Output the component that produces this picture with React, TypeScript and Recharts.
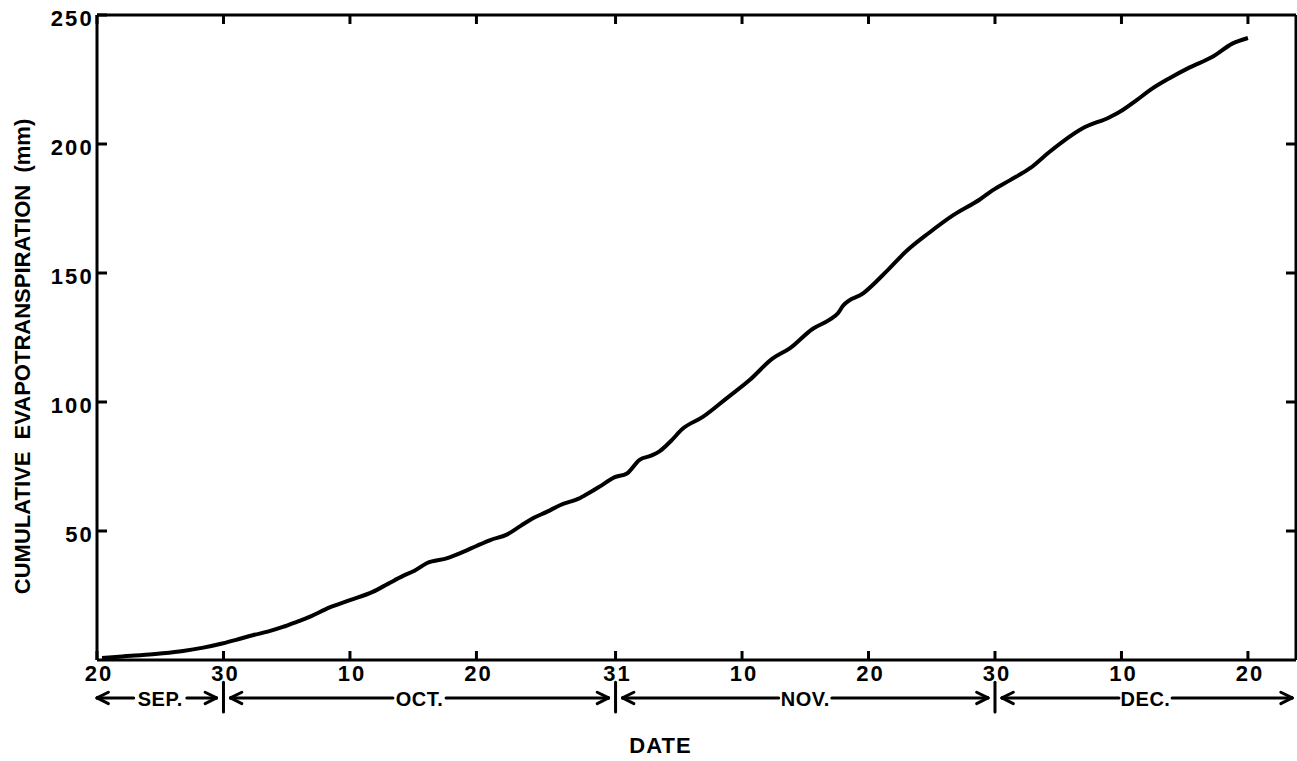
import { LineChart, Line, XAxis, YAxis, ReferenceLine, Label } from 'recharts';

// Days counted from 20 September, and the cumulative ET read at each day (mm)
const days = [
  0.4, 2, 3.6, 5.2, 6.8, 8.4, 9.9, 11, 12.3, 13.5, 14.7, 15.8, 16.8, 18.4, 20, 21.8,
  23, 24.2, 25.1, 26.1, 27.7, 29, 30, 31.1, 32.4, 33.5, 34.5, 35.6, 36.6, 38.2, 39,
  39.8, 40.9, 41.9, 42.9, 43.8, 44.5, 45.4, 46.3, 47.9, 49.8, 51.6, 53.4, 54.8, 56.6,
  57.9, 58.6, 59, 60.6, 62.5, 64, 65.8, 67.7, 69.8, 70.8, 72.2, 73.8, 75.3, 77.9, 80.1,
  81.1, 82.2, 83.2, 84.8, 86.4, 88.2, 89.8, 91,
];
const cumulativeEt = [
  0.8, 1.4, 1.9, 2.6, 3.5, 4.8, 6.4, 7.8, 9.6, 11, 12.8, 14.8, 16.7, 20.4, 23.2, 26.4,
  29.5, 32.6, 34.6, 37.6, 39.5, 42, 44.2, 46.5, 48.6, 52, 55, 57.5, 60, 62.8, 65,
  67.4, 70.8, 72.3, 77.6, 79.2, 81, 85, 89.6, 94.2, 101.5, 108.5, 116.8, 120.9, 128.4,
  131.8, 134.5, 137.4, 142.2, 151, 158.5, 165.6, 172.4, 178.5, 182, 186, 190.7, 196.9, 206, 210.5,
  213.2, 217, 220.7, 225.5, 229.7, 233.8, 239, 241.1,
];

const dayTicks = [0, 10, 20, 30, 41, 51, 61, 71, 81, 91];
const dayTickLabels = ['20', '30', '10', '20', '31', '10', '20', '30', '10', '20'];
const etTicks = [50, 100, 150, 200, 250];

const monthNames = ['SEP.', 'OCT.', 'NOV.', 'DEC.'];
const monthStart = [0, 10, 41, 71];
const monthEnd = [10, 41, 71, 94.8];

const X_MAX = 94.8;
const ROW_Y = -14.7; // arrow row under the axis, in mm units
const BAR_TOP = -8.6;
const BAR_BOTTOM = -20.2;
const LABEL_HALF = 2.1; // half the gap left for a month name, in days
const TIP_GAP = 0.55;
const HEAD_LEN = 0.9;
const HEAD_HALF = 2.2;

const FONT = "'Liberation Sans', Arial, sans-serif";

const data = days.map((d, i) => ({ day: d, et: cumulativeEt[i] }));
const monthMid = monthStart.map((s, i) => (s + monthEnd[i]) / 2);

type Seg = [number, number, number, number];

function monthSegments(): Seg[] {
  const segs: Seg[] = [];
  monthStart.forEach((s, i) => {
    const e = monthEnd[i];
    const mid = monthMid[i];
    const left = i === 0 ? s : s + TIP_GAP;
    const right = i === monthStart.length - 1 ? e - 0.3 : e - TIP_GAP;
    // left arrow
    segs.push([left, ROW_Y, mid - LABEL_HALF, ROW_Y]);
    segs.push([left, ROW_Y, left + HEAD_LEN, ROW_Y + HEAD_HALF]);
    segs.push([left, ROW_Y, left + HEAD_LEN, ROW_Y - HEAD_HALF]);
    // right arrow
    segs.push([mid + LABEL_HALF, ROW_Y, right, ROW_Y]);
    segs.push([right, ROW_Y, right - HEAD_LEN, ROW_Y + HEAD_HALF]);
    segs.push([right, ROW_Y, right - HEAD_LEN, ROW_Y - HEAD_HALF]);
    // divider at the month end
    if (i < monthStart.length - 1) segs.push([e, BAR_TOP, e, BAR_BOTTOM]);
  });
  return segs;
}

const lettering = (size: number, spacing = 0) => ({
  fontFamily: FONT,
  fontWeight: 700,
  fontSize: size,
  letterSpacing: spacing,
  fill: '#000',
});

function DayTick(props: any) {
  const { x, y, index } = props;
  return (
    <g>
      <line x1={x} x2={x} y1={y} y2={y - 9} stroke="#000" strokeWidth={3} />
      <text x={x + 2} y={y + 13} textAnchor="middle" dominantBaseline="central" style={lettering(22, 2)}>
        {dayTickLabels[index]}
      </text>
    </g>
  );
}

function TopTick(props: any) {
  const { x, y } = props;
  return <line x1={x} x2={x} y1={y} y2={y + 9} stroke="#000" strokeWidth={3} />;
}

function MonthTick(props: any) {
  const { x, y, index } = props;
  return (
    <text x={x} y={y + 14} textAnchor="middle" dominantBaseline="central" style={lettering(20, 0.5)}>
      {monthNames[index]}
    </text>
  );
}

function EtTick(props: any) {
  const { x, y, payload } = props;
  return (
    <g>
      <line x1={x} x2={x + 10} y1={y} y2={y} stroke="#000" strokeWidth={3} />
      <text x={x - 3} y={y + 3} textAnchor="end" dominantBaseline="central" style={lettering(22, 2.2)}>
        {payload.value}
      </text>
    </g>
  );
}

function RightTick(props: any) {
  const { x, y, payload } = props;
  if (payload.value === 250) return <g />;
  return <line x1={x} x2={x - 10} y1={y} y2={y} stroke="#000" strokeWidth={3} />;
}

export default function App() {
  return (
    <div style={{ position: 'absolute', left: 0, top: 0, width: 1297, height: 761, background: '#fff' }}>
      <LineChart width={1297} height={761} data={data} margin={{ top: 0, right: 0, bottom: 0, left: 0 }}>
        <XAxis
          xAxisId="day"
          dataKey="day"
          type="number"
          domain={[0, X_MAX]}
          allowDataOverflow
          ticks={dayTicks}
          interval={0}
          height={25}
          tickSize={0}
          tickMargin={0}
          tickLine={false}
          axisLine={{ stroke: '#000', strokeWidth: 3 }}
          tick={<DayTick />}
        />
        <XAxis
          xAxisId="month"
          dataKey="day"
          type="number"
          domain={[0, X_MAX]}
          allowDataOverflow
          ticks={monthMid}
          interval={0}
          height={76}
          tickSize={0}
          tickMargin={0}
          tickLine={false}
          axisLine={false}
          tick={<MonthTick />}
        >
          <Label
            content={({ viewBox }: any) => (
              <text
                x={viewBox.x + viewBox.width / 2 - 36}
                y={viewBox.y + 60}
                textAnchor="middle"
                dominantBaseline="central"
                style={lettering(22, 1)}
              >
                DATE
              </text>
            )}
          />
        </XAxis>
        <XAxis
          xAxisId="top"
          orientation="top"
          dataKey="day"
          type="number"
          domain={[0, X_MAX]}
          allowDataOverflow
          ticks={dayTicks}
          interval={0}
          height={15}
          tickSize={0}
          tickMargin={0}
          tickLine={false}
          axisLine={{ stroke: '#000', strokeWidth: 3 }}
          tick={<TopTick />}
        />
        <YAxis
          yAxisId="mm"
          dataKey="et"
          type="number"
          domain={[0, 250]}
          allowDataOverflow
          ticks={etTicks}
          interval={0}
          width={97}
          tickSize={0}
          tickMargin={0}
          tickLine={false}
          axisLine={{ stroke: '#000', strokeWidth: 3 }}
          tick={<EtTick />}
        >
          <Label
            content={({ viewBox }: any) => {
              const cx = viewBox.x + 22;
              const cy = viewBox.y + viewBox.height / 2 + 19;
              return (
                <text
                  x={cx}
                  y={cy}
                  transform={`rotate(-90, ${cx}, ${cy})`}
                  textAnchor="middle"
                  dominantBaseline="central"
                  style={{ ...lettering(22), whiteSpace: 'pre' }}
                >
                  {'CUMULATIVE  EVAPOTRANSPIRATION  (mm)'}
                </text>
              );
            }}
          />
        </YAxis>
        <YAxis
          yAxisId="right"
          orientation="right"
          dataKey="et"
          type="number"
          domain={[0, 250]}
          allowDataOverflow
          ticks={etTicks}
          interval={0}
          width={1}
          tickSize={0}
          tickMargin={0}
          tickLine={false}
          axisLine={{ stroke: '#000', strokeWidth: 3 }}
          tick={<RightTick />}
        />
        {monthSegments().map((s, i) => (
          <ReferenceLine
            key={i}
            xAxisId="day"
            yAxisId="mm"
            ifOverflow="visible"
            segment={[{ x: s[0], y: s[1] }, { x: s[2], y: s[3] }]}
            stroke="#000"
            strokeWidth={3}
            strokeLinecap="round"
          />
        ))}
        <Line
          xAxisId="day"
          yAxisId="mm"
          dataKey="et"
          type="monotone"
          stroke="#000"
          strokeWidth={4}
          dot={false}
          isAnimationActive={false}
        />
      </LineChart>
    </div>
  );
}
